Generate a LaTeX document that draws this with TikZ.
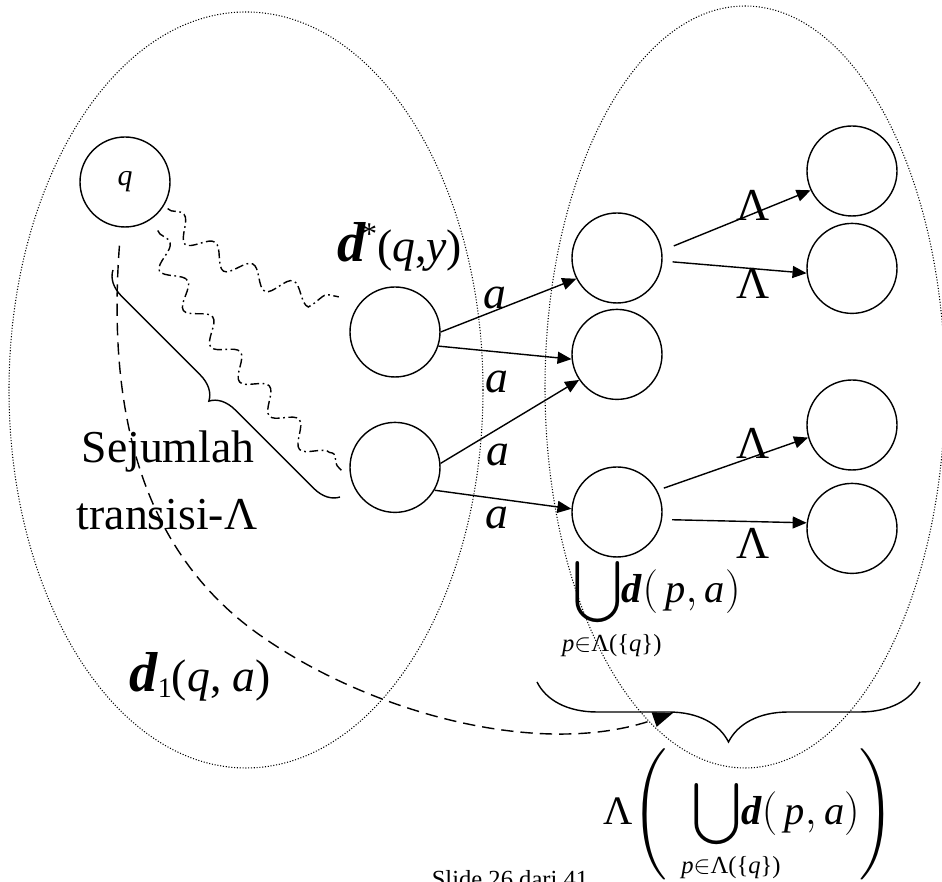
\documentclass[tikz,border=0pt]{standalone}
\usepackage{mathtools}
\usepackage{fontspec}
\setmainfont{Liberation Serif}
\usetikzlibrary{arrows.meta, positioning, calc, decorations.pathreplacing, decorations.pathmorphing}
\newcommand{\delt}{\textbf{\textit{d}}}
\newcommand{\undersub}{\mathclap{\raisebox{5pt}{\hspace{0.7em}\fontsize{14}{14}\selectfont\textit{p}$\in$Λ(\{\textit{q}\})}}}
\tikzset{
    snode/.style={circle, draw, line width=0.8pt, minimum size=18mm, inner sep=0pt},
    trans/.style={draw, line width=0.8pt, -{Triangle[length=2.8mm, width=2.4mm]}},
    elab/.style={font=\fontsize{26}{30}\selectfont\itshape},
    llab/.style={font=\fontsize{26}{30}\selectfont},
    region/.style={densely dotted, line width=0.6pt},
    wavy/.style={decorate, decoration={snake, amplitude=2mm, segment length=9mm}, dash pattern=on 5pt off 2pt on 1pt off 2pt, line width=0.8pt},
    bracket/.style={decorate, line width=0.8pt},
}

\begin{document}
\begin{tikzpicture}
    \useasboundingbox (0,0) rectangle (18.84,17.64);
    % the two regions
    \draw[region] (4.92,9.84) ellipse (4.74 and 7.56);
    \draw[region] (14.9,9.9) ellipse (4.0 and 7.62);

    % states
    \node[snode] (q) at (2.5,14.0) {\fontsize{17}{17}\selectfont\textit{q}};
    \node[snode] (m1) at (7.9,11.0) {};
    \node[snode, below=0.88cm of m1] (m2) {};
    \node[snode] (r1) at (12.34,12.48) {};
    \node[snode, below=0.1cm of r1] (r2) {};
    \node[snode] (r3) at (12.34,7.4) {};
    \node[snode] (f1) at (17.04,14.22) {};
    \node[snode, below=0.12cm of f1] (f2) {};
    \node[snode] (f3) at (17.04,9.14) {};
    \node[snode, below=0.24cm of f3] (f4) {};

    % a-transitions
    \draw[trans] (m1.east) -- (r1.207);
    \draw[trans] (m1.-18) -- (r2.186);
    \draw[trans] (m2.5) -- (r2.214);
    \draw[trans] (m2.-30) -- (r3.176);
    \node[elab] (a1) at (9.9,11.68) {a};
    \node[elab] (a2) at (9.94,10.0) {a};
    \node[elab] (a3) at (9.96,8.54) {a};
    \node[elab] (a4) at (9.94,7.28) {a};

    % Lambda-transitions
    \draw[trans] ($(r1)!1.27!(r1.12)$) -- (f1.205);
    \draw[trans] ($(r1)!1.22!(r1.-4)$) -- (f2.186);
    \draw[trans] ($(r3)!1.15!(r3.27)$) -- (f3.196);
    \draw[trans] ($(r3)!1.22!(r3.-8)$) -- (f4.173);
    \node[llab] (l1) at (15.06,13.54) {Λ};
    \node[llab] (l2) at (15.06,11.98) {Λ};
    \node[llab] (l3) at (15.06,8.78) {Λ};
    \node[llab] (l4) at (15.06,6.78) {Λ};

    % paths of Lambda-moves from q
    \draw[wavy] ($(q)!1.1!(q.-32)$) .. controls (3.9,12.7) and (5.4,12.0) .. ($(m1)!1.45!(m1.148)$);
    \draw[wavy] ($(q)!1.28!(q.-56)$) .. controls (3.3,12.2) and (4.6,10.6) .. ($(m2)!1.16!(m2.184)$);
    \draw[bracket, decoration={brace, amplitude=5mm}] (6.8,7.7) -- (2.26,12.24);
    \node[llab, anchor=base] (s1) at (3.36,8.38) {Sejumlah};
    \node[llab, anchor=base] (s2) at (3.34,7.04) {transisi-Λ};
    \node[llab, anchor=base] (dq) at (8.0,12.4)
        {{\fontsize{32}{32}\selectfont\delt}\hspace{-0.12em}\raisebox{10pt}{\fontsize{18}{18}\selectfont*}(\textit{q},\textit{y})};

    % union of the moves and its closure
    \node[anchor=base west, inner sep=0pt, font=\fontsize{23}{26}\selectfont] (u1) at (11.46,5.58)
        {$\displaystyle\bigcup_{\undersub}\!\delt(\,\textit{p}, \textit{a})$};
    \draw[bracket, decoration={brace, amplitude=12mm}] (18.4,4.0) -- (10.74,4.0);
    \coordinate (bt) at (13.46,3.38);
    \node[font=\fontsize{23}{26}\selectfont] (u2) at (14.98,1.36)
        {$\displaystyle\textup{Λ}\!\left(\vrule height 1.05cm depth 1.05cm width 0pt\hspace{0.5cm}\smash{\bigcup_{\undersub}}\delt(\,\textit{p}, \textit{a})\right)$};

    % delta_1
    \draw[dashed, dash pattern=on 7pt off 4pt, line width=0.8pt, -{Triangle[length=4mm, width=3mm]}]
        ($(q)!1.4!(q.-95)$) .. controls (2.16,9.64) and (2.7,6.6) .. (5.34,4.84)
        .. controls (7.45,3.4) and (10.8,2.45) .. (bt);
    \node[llab, anchor=base] (d1) at (4.0,3.8)
        {{\fontsize{32}{32}\selectfont\delt}{\fontsize{16}{16}\selectfont\raisebox{-3pt}{1}}(\textit{q}, \textit{a})};

    \node[anchor=base, font=\fontsize{14}{16}\selectfont] (ft) at (10.2,-0.12) {Slide 26 dari 41};
\end{tikzpicture}
\end{document}
